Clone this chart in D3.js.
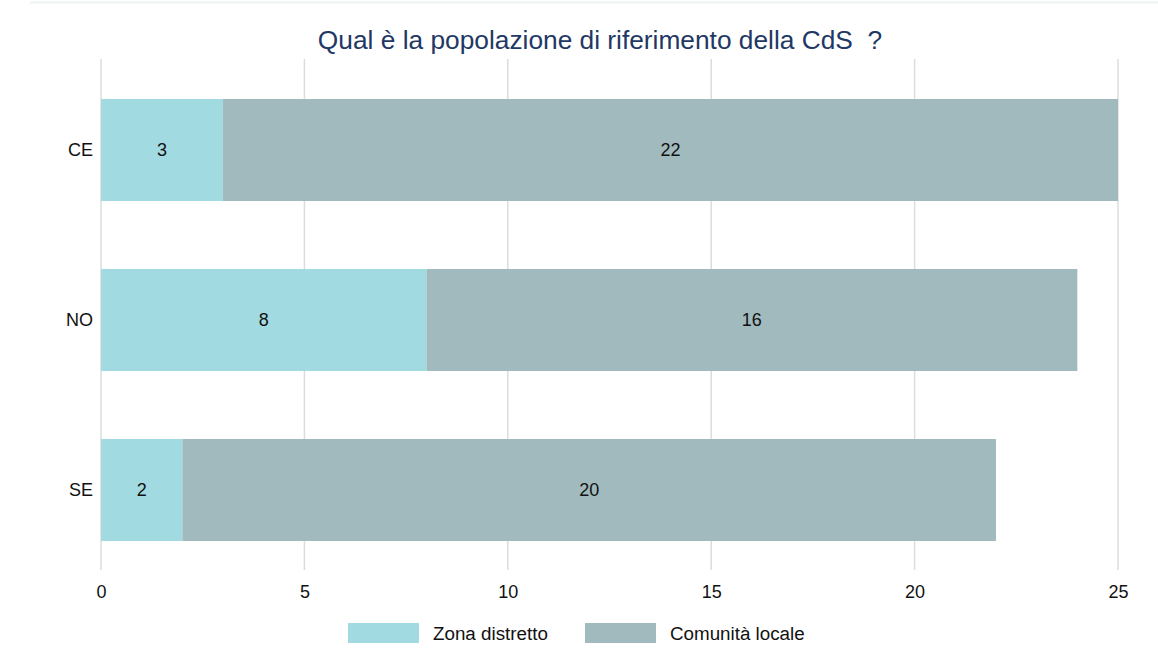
<!DOCTYPE html>
<html><head><meta charset="utf-8">
<script src="https://cdn.jsdelivr.net/npm/d3@7"></script>
<style>body{margin:0;background:#fff;font-family:"Liberation Sans",Arial,sans-serif;}</style>
</head><body><svg id="c" width="1158" height="649"></svg>
<script>
const categories = ["CE", "NO", "SE"];
const seriesNames = ["Zona distretto", "Comunità locale"];
const zonaDistretto = [3, 8, 2];
const comunitaLocale = [22, 16, 20];
const xTicks = [0, 5, 10, 15, 20, 25];
const colors = ["#a2dae2", "#a1babe"];
const title = "Qual è la popolazione di riferimento della CdS  ?";

const svg = d3.select("#c");
svg.append("line").attr("x1", 30).attr("x2", 1158).attr("y1", 2.5).attr("y2", 2.5)
  .attr("stroke", "#eef4f3").attr("stroke-width", 2);

const x = d3.scaleLinear().domain([0, 25]).range([101, 1118]);
const y = d3.scaleBand().domain(categories).range([65, 575]).paddingInner(0.4).paddingOuter(0.2);

svg.append("text").attr("x", 600).attr("y", 49).attr("text-anchor", "middle")
  .attr("font-size", 26.3).attr("fill", "#1f3864").style("white-space", "pre").text(title);

svg.selectAll(".grid").data(xTicks).join("line")
  .attr("x1", d => x(d)).attr("x2", d => x(d)).attr("y1", 59).attr("y2", 570)
  .attr("stroke", "#dcdcdc").attr("stroke-width", 1.5);

const data = categories.map((c, i) => ({c, vals: [zonaDistretto[i], comunitaLocale[i]]}));
const stack = d3.stack().keys([0, 1]).value((d, k) => d.vals[k])(data);

stack.forEach((layer, k) => {
  const g = svg.append("g");
  g.selectAll("rect").data(layer).join("rect")
    .attr("x", d => x(d[0])).attr("width", d => x(d[1]) - x(d[0]))
    .attr("y", d => y(d.data.c)).attr("height", y.bandwidth())
    .attr("fill", colors[k]);
  g.selectAll("text").data(layer).join("text")
    .attr("x", d => (x(d[0]) + x(d[1])) / 2).attr("y", d => y(d.data.c) + y.bandwidth() / 2)
    .attr("dy", "0.35em").attr("text-anchor", "middle").attr("font-size", 18).attr("fill", "#111")
    .text(d => d.data.vals[k]);
});

const yAxis = d3.axisLeft(y).tickSize(0).tickPadding(8);
const ya = svg.append("g").attr("transform", "translate(101,0)").call(yAxis);
ya.select(".domain").remove();
ya.selectAll("text").attr("font-size", 18).attr("fill", "#111").attr("font-family", "Liberation Sans, Arial, sans-serif");

const xAxis = d3.axisBottom(x).tickValues(xTicks).tickSize(0).tickPadding(0);
const xa = svg.append("g").attr("transform", "translate(0,578)").call(xAxis);
xa.select(".domain").remove();
xa.selectAll("text").attr("font-size", 18).attr("fill", "#111").attr("font-family", "Liberation Sans, Arial, sans-serif")
  .attr("y", 14).attr("dy", "0.35em");

const legX = [348, 585];
seriesNames.forEach((n, i) => {
  svg.append("rect").attr("x", legX[i]).attr("y", 623).attr("width", 71).attr("height", 20).attr("fill", colors[i]);
  svg.append("text").attr("x", legX[i] + 85).attr("y", 633).attr("dy", "0.35em")
    .attr("font-size", 18.8).attr("fill", "#111").text(n);
});
</script></body></html>
